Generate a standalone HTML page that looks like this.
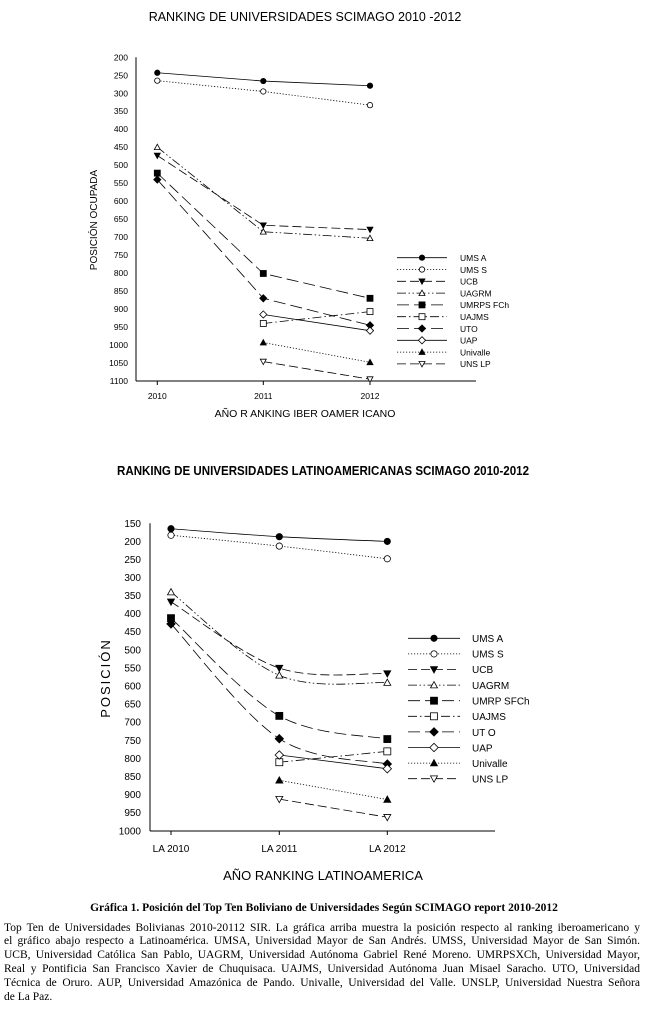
<!DOCTYPE html>
<html><head><meta charset="utf-8">
<style>
html,body{margin:0;padding:0;background:#fff;width:648px;height:1018px;overflow:hidden;position:relative}
svg{position:absolute;left:0;top:0}
.p{position:absolute;left:4px;width:636px;font-family:"Liberation Serif",serif;font-size:11.5px;line-height:13px;text-align:justify;text-align-last:justify;white-space:nowrap;color:#000}
.p.l{text-align-last:left}
</style></head><body>
<svg id="s" width="648" height="1018" font-family="Liberation Sans, sans-serif" fill="#000">
<text x="305" y="21" font-size="12.5" text-anchor="middle">RANKING DE UNIVERSIDADES SCIMAGO 2010 -2012</text>
<g font-size="8.5" text-anchor="end">
<text x="128" y="60.3">200</text><text x="128" y="78.3">250</text><text x="128" y="96.3">300</text><text x="128" y="114.2">350</text><text x="128" y="132.2">400</text><text x="128" y="150.2">450</text><text x="128" y="168.1">500</text><text x="128" y="186.1">550</text><text x="128" y="204.1">600</text><text x="128" y="222.1">650</text><text x="128" y="240">700</text><text x="128" y="258">750</text><text x="128" y="276">800</text><text x="128" y="294">850</text><text x="128" y="311.9">900</text><text x="128" y="329.9">950</text><text x="128" y="347.9">1000</text><text x="128" y="365.9">1050</text><text x="128" y="383.8">1100</text>
</g>
<g font-size="8.5" text-anchor="middle"><text x="157.3" y="399">2010</text><text x="263.3" y="399">2011</text><text x="370" y="399">2012</text></g>
<text x="305" y="417" font-size="10.5" text-anchor="middle">AÑO R ANKING IBER OAMER ICANO</text>
<text transform="translate(97,220) rotate(-90)" font-size="10" text-anchor="middle">POSICIÓN OCUPADA</text>
<g font-size="8.5">
<text x="460" y="261">UMS A</text><text x="460" y="273">UMS S</text><text x="460" y="284.5">UCB</text><text x="460" y="296.5">UAGRM</text><text x="460" y="308">UMRPS FCh</text><text x="460" y="320">UAJMS</text><text x="460" y="332">UTO</text><text x="460" y="343.5">UAP</text><text x="460" y="355.5">Univalle</text><text x="460" y="367">UNS LP</text>
</g>

<text x="323" y="475" font-size="13" font-weight="bold" text-anchor="middle" textLength="412" lengthAdjust="spacingAndGlyphs">RANKING DE UNIVERSIDADES LATINOAMERICANAS SCIMAGO 2010-2012</text>
<g font-size="10" text-anchor="end">
<text x="141" y="527">150</text><text x="141" y="545">200</text><text x="141" y="563">250</text><text x="141" y="581">300</text><text x="141" y="599">350</text><text x="141" y="617">400</text><text x="141" y="635">450</text><text x="141" y="653.5">500</text><text x="141" y="671.5">550</text><text x="141" y="689.5">600</text><text x="141" y="707.5">650</text><text x="141" y="725.5">700</text><text x="141" y="744">750</text><text x="141" y="762">800</text><text x="141" y="780">850</text><text x="141" y="798">900</text><text x="141" y="816">950</text><text x="141" y="834.5">1000</text>
</g>
<g font-size="10" text-anchor="middle"><text x="171" y="852">LA 2010</text><text x="279.3" y="852">LA 2011</text><text x="387.3" y="852">LA 2012</text></g>
<text x="323" y="880" font-size="13" text-anchor="middle">AÑO RANKING LATINOAMERICA</text>
<text transform="translate(110,678) rotate(-90)" font-size="13" text-anchor="middle" letter-spacing="2">POSICIÓN</text>
<g font-size="10">
<text x="472" y="642">UMS A</text><text x="472" y="657.5">UMS S</text><text x="472" y="673">UCB</text><text x="472" y="689">UAGRM</text><text x="472" y="704.5">UMRP SFCh</text><text x="472" y="720">UAJMS</text><text x="472" y="736">UT O</text><text x="472" y="751.5">UAP</text><text x="472" y="767">Univalle</text><text x="472" y="782.5">UNS LP</text>
</g>
<text x="324" y="911" font-family="Liberation Serif, serif" font-size="11.5" font-weight="bold" text-anchor="middle">Gráfica 1. Posición  del Top  Ten Boliviano  de Universidades Según SCIMAGO report 2010-2012</text>
<g id="g"></g>
</svg>
<div class="p" style="top:921.5px">Top Ten de Universidades Bolivianas 2010-20112 SIR. La gráfica arriba muestra la posición respecto al ranking iberoamericano y</div>
<div class="p" style="top:935.3px">el gráfico abajo respecto a Latinoamérica. UMSA, Universidad Mayor de San Andrés. UMSS, Universidad Mayor de San Simón.</div>
<div class="p" style="top:949.1px">UCB, Universidad Católica San Pablo, UAGRM, Universidad Autónoma Gabriel René Moreno. UMRPSXCh, Universidad Mayor,</div>
<div class="p" style="top:962.9px">Real y Pontificia San Francisco Xavier de Chuquisaca. UAJMS, Universidad Autónoma Juan Misael Saracho. UTO, Universidad</div>
<div class="p" style="top:976.7px">Técnica de Oruro. AUP, Universidad Amazónica de Pando. Univalle, Universidad del Valle. UNSLP, Universidad Nuestra Señora</div>
<div class="p l" style="top:990.5px">de La Paz.</div>
<script>
var g=document.getElementById('g'),NS='http://www.w3.org/2000/svg';
function el(t,a){var e=document.createElementNS(NS,t);for(var k in a)e.setAttribute(k,a[k]);g.appendChild(e);return e;}
var dash={solid:'',dot:'1.2,1.8',dash:'9,4',dashdot:'9,3,1.5,3',dashdotdot:'9,2.5,1.5,2.5,1.5,2.5',ldash:'12,5'};
var series=[
 ['UMSA','solid','circF'],['UMSS','dot','circO'],['UCB','dash','triDF'],['UAGRM','dashdotdot','triO'],
 ['UMRPSFCh','ldash','sqF'],['UAJMS','dashdot','sqO'],['UTO','ldash','diaF'],['UAP','solid','diaO'],
 ['Univalle','dot','triF'],['UNSLP','dash','triDO']];
function marker(type,x,y,s){
 var f=type.slice(-1)=='F'?'#000':'#fff',a={fill:f,stroke:'#000','stroke-width':0.8};
 var t=type.slice(0,-1);
 if(t=='circ'){a.cx=x;a.cy=y;a.r=s*0.9;el('circle',a);}
 else if(t=='sq'){a.x=x-s;a.y=y-s;a.width=2*s;a.height=2*s;el('rect',a);}
 else if(t=='dia'){a.points=[x,y-s*1.2,x+s*1.2,y,x,y+s*1.2,x-s*1.2,y].join(' ');el('polygon',a);}
 else if(t=='tri'){a.points=[x,y-s,x+s,y+s*0.8,x-s,y+s*0.8].join(' ');el('polygon',a);}
 else if(t=='triD'){a.points=[x,y+s,x+s,y-s*0.8,x-s,y-s*0.8].join(' ');el('polygon',a);}
}
function chart(c){
 el('line',{x1:c.ax,y1:c.top,x2:c.ax,y2:c.bot,stroke:'#000','stroke-width':1});
 el('line',{x1:c.ax,y1:c.bot,x2:c.xend,y2:c.bot,stroke:'#000','stroke-width':1});
 c.xs.forEach(function(x){el('line',{x1:x,y1:c.bot,x2:x,y2:c.bot+4,stroke:'#000','stroke-width':1});});
 function Y(v){return c.top+(v-c.v0)*c.k;}
 series.forEach(function(s,i){
  var d=c.data[i],pts=[];
  d.forEach(function(v,j){if(v!=null)pts.push([c.xs[j],Y(v)]);});
  var p='M'+pts[0][0]+','+pts[0][1];
  if(c.smooth&&pts.length==3){
   for(var j=0;j<2;j++){var p0=pts[Math.max(j-1,0)],p1=pts[j],p2=pts[j+1],p3=pts[Math.min(j+2,2)];
    p+=' C'+(p1[0]+(p2[0]-p0[0])/6)+','+(p1[1]+(p2[1]-p0[1])/6)+' '+(p2[0]-(p3[0]-p1[0])/6)+','+(p2[1]-(p3[1]-p1[1])/6)+' '+p2[0]+','+p2[1];}
  } else pts.slice(1).forEach(function(q){p+=' L'+q[0]+','+q[1];});
  el('path',{d:p,fill:'none',stroke:'#000','stroke-width':0.8,'stroke-dasharray':dash[s[1]]});
  pts.forEach(function(q){marker(s[2],q[0],q[1],c.ms);});
  var ly=c.ly0+i*c.lstep;
  el('line',{x1:c.lx1,y1:ly,x2:c.lx2,y2:ly,stroke:'#000','stroke-width':0.8,'stroke-dasharray':dash[s[1]]});
  marker(s[2],(c.lx1+c.lx2)/2,ly,c.ms);
 });
}
chart({ax:136,top:57.3,bot:381,xend:476,xs:[157.3,263.3,370],v0:200,k:0.3597,ms:3,smooth:false,
 lx1:397,lx2:447,ly0:257.7,lstep:11.8,
 data:[[243,266,279],[265,295,333],[473,667,679],[450,685,703],[522,801,870],[null,940,907],[540,870,945],[null,915,960],[null,993,1048],[null,1046,1095]]});
chart({ax:150,top:523.3,bot:831,xend:495,xs:[171,279.3,387.3],v0:150,k:0.362,ms:3.5,smooth:true,
 lx1:408,lx2:460,ly0:638.3,lstep:15.6,
 data:[[165,187,200],[183,213,248],[367,550,565],[340,570,590],[412,682,746],[null,810,780],[428,745,815],[null,790,828],[null,860,913],[null,912,962]]});
</script>
</body></html>
